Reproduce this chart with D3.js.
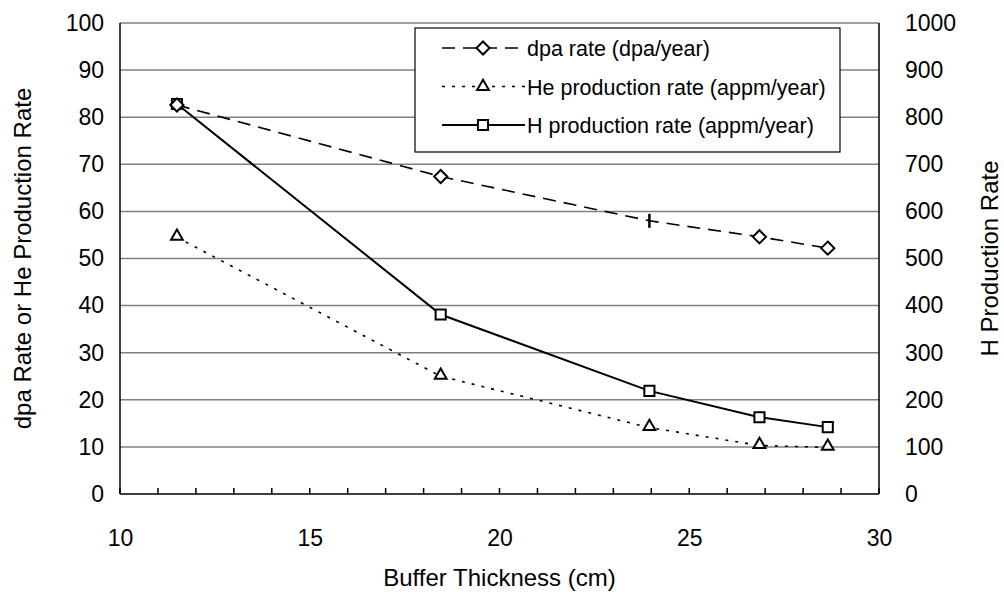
<!DOCTYPE html>
<head>
<meta charset="utf-8">
<style>
body, html {
  margin: 0;
  background: #fff;
  font-family: "Liberation Sans", Arial, sans-serif;
}
.grid line {
  stroke: #808080;
  stroke-width: 1.5;
}
.axis path, .axis line {
  stroke: #000;
  stroke-width: 1.5;
}
.axis text {
  font-size: 23px;
  fill: #000;
}
.title {
  font-size: 24px;
  fill: #000;
}
.legend text {
  font-size: 21.5px;
  fill: #000;
}
</style>
<script src="https://d3js.org/d3.v7.min.js"></script>
</head>
<body>
<script>

// buffer thickness (cm)
var thickness = [11.5, 18.45, 23.95, 26.85, 28.65];
// left axis series
var dpaRate = [82.6, 67.4, 58.0, 54.6, 52.2];
var heRate = [54.5, 25.0, 14.1, 10.3, 9.9];
// right axis series
var hRate = [828, 381, 219, 163, 142];

var xTicks = [10, 15, 20, 25, 30];
var yLeftTicks = [0, 10, 20, 30, 40, 50, 60, 70, 80, 90, 100];
var yRightTicks = [0, 100, 200, 300, 400, 500, 600, 700, 800, 900, 1000];

var legendLabels = ["dpa rate (dpa/year)", "He production rate (appm/year)", "H production rate (appm/year)"];

var width = 1004, height = 594;
var margin = {left: 120, right: 125, top: 23, bottom: 100};
var pw = width - margin.left - margin.right,
    ph = height - margin.top - margin.bottom;

var svg = d3.select("body").append("svg")
    .attr("width", width)
    .attr("height", height);

var g = svg.append("g")
    .attr("transform", "translate(" + margin.left + "," + margin.top + ")");

var x = d3.scaleLinear().domain([10, 30]).range([0, pw]);
var yL = d3.scaleLinear().domain([0, 100]).range([ph, 0]);
var yR = d3.scaleLinear().domain([0, 1000]).range([ph, 0]);

// gridlines
g.append("g").attr("class", "grid")
  .selectAll("line").data(yLeftTicks.slice(1)).enter().append("line")
    .attr("x1", 0).attr("x2", pw)
    .attr("y1", d => yL(d)).attr("y2", d => yL(d));

// x axis: labels every 5, small inward ticks every 1
var xAxis = g.append("g").attr("class", "axis")
    .attr("transform", "translate(0," + ph + ")")
    .call(d3.axisBottom(x).tickValues(xTicks).tickSize(0).tickPadding(36));
xAxis.select(".domain").remove();
xAxis.append("g").selectAll("line").data(d3.range(10, 31)).enter().append("line")
    .attr("x1", d => x(d)).attr("x2", d => x(d))
    .attr("y1", 0).attr("y2", -6);
xAxis.append("line").attr("x1", 0).attr("x2", pw);

var yAxisL = g.append("g").attr("class", "axis")
    .call(d3.axisLeft(yL).tickValues(yLeftTicks).tickSize(0).tickPadding(16));
yAxisL.select(".domain").attr("d", "M0," + ph + "V0");

var yAxisR = g.append("g").attr("class", "axis")
    .attr("transform", "translate(" + pw + ",0)")
    .call(d3.axisRight(yR).tickValues(yRightTicks).tickFormat(d3.format("d"))
      .tickSize(0).tickPadding(26));
yAxisR.select(".domain").attr("d", "M0," + ph + "V0");

// titles
svg.append("text").attr("class", "title")
    .attr("x", margin.left + pw / 2).attr("y", 586)
    .attr("text-anchor", "middle")
    .text("Buffer Thickness (cm)");
svg.append("text").attr("class", "title")
    .attr("transform", "translate(31," + (margin.top + ph / 2) + ") rotate(-90)")
    .attr("text-anchor", "middle")
    .text("dpa Rate or He Production Rate");
svg.append("text").attr("class", "title")
    .attr("transform", "translate(998," + (margin.top + ph / 2) + ") rotate(-90)")
    .attr("text-anchor", "middle")
    .text("H Production Rate");

// lines
var lineL = d3.line().x(d => x(d[0])).y(d => yL(d[1]));
var lineR = d3.line().x(d => x(d[0])).y(d => yR(d[1]));

var dpaPts = d3.zip(thickness, dpaRate),
    hePts = d3.zip(thickness, heRate),
    hPts = d3.zip(thickness, hRate);

g.append("path").datum(dpaPts).attr("d", lineL)
    .attr("fill", "none").attr("stroke", "#000").attr("stroke-width", 1.6)
    .attr("stroke-dasharray", "13,8");
g.append("path").datum(hePts).attr("d", lineL)
    .attr("fill", "none").attr("stroke", "#000").attr("stroke-width", 1.6)
    .attr("stroke-dasharray", "3,7");
g.append("path").datum(hPts).attr("d", lineR)
    .attr("fill", "none").attr("stroke", "#000").attr("stroke-width", 2);

// markers
var symDiamond = d3.symbol().type(d3.symbolDiamond2).size(110);
var symTri = d3.symbol().type(d3.symbolTriangle2).size(100);
var symSquare = d3.symbol().type(d3.symbolSquare2).size(130);

function marker(sel, sym) {
  sel.append("path").attr("d", sym)
    .attr("fill", "#fff").attr("stroke", "#000").attr("stroke-width", 2);
}

g.selectAll(".mh").data(hPts).enter().append("g")
    .attr("transform", d => "translate(" + x(d[0]) + "," + yR(d[1]) + ")")
    .call(marker, symSquare);
g.selectAll(".mhe").data(hePts).enter().append("g")
    .attr("transform", d => "translate(" + x(d[0]) + "," + (yL(d[1]) - 1) + ")")
    .call(marker, symTri);
var md = g.selectAll(".md").data(dpaPts).enter().append("g")
    .attr("transform", d => "translate(" + x(d[0]) + "," + yL(d[1]) + ")");
// third dpa marker shows as a bar in the original
md.filter((d, i) => i !== 2).call(marker, symDiamond);
md.filter((d, i) => i === 2).append("line")
    .attr("x1", 0).attr("x2", 0).attr("y1", -7).attr("y2", 7)
    .attr("stroke", "#000").attr("stroke-width", 2.5);

// legend
var leg = svg.append("g").attr("class", "legend")
    .attr("transform", "translate(415,28)");
leg.append("rect").attr("width", 425).attr("height", 124)
    .attr("fill", "#fff").attr("stroke", "#000").attr("stroke-width", 1.2);

var dashes = ["13,8", "3,7", null],
    syms = [symDiamond, symTri, symSquare];
legendLabels.forEach(function(lab, i) {
  var row = leg.append("g").attr("transform", "translate(0," + (20 + i * 38.5) + ")");
  row.append("line").attr("x1", 27).attr("x2", 110)
      .attr("stroke", "#000").attr("stroke-width", i === 2 ? 2 : 1.6)
      .attr("stroke-dasharray", dashes[i]);
  row.append("g").attr("transform", "translate(68,0)").call(marker, syms[i]);
  row.append("text").attr("x", 112).attr("y", 8).text(lab);
});

</script>
</body>
</html>
